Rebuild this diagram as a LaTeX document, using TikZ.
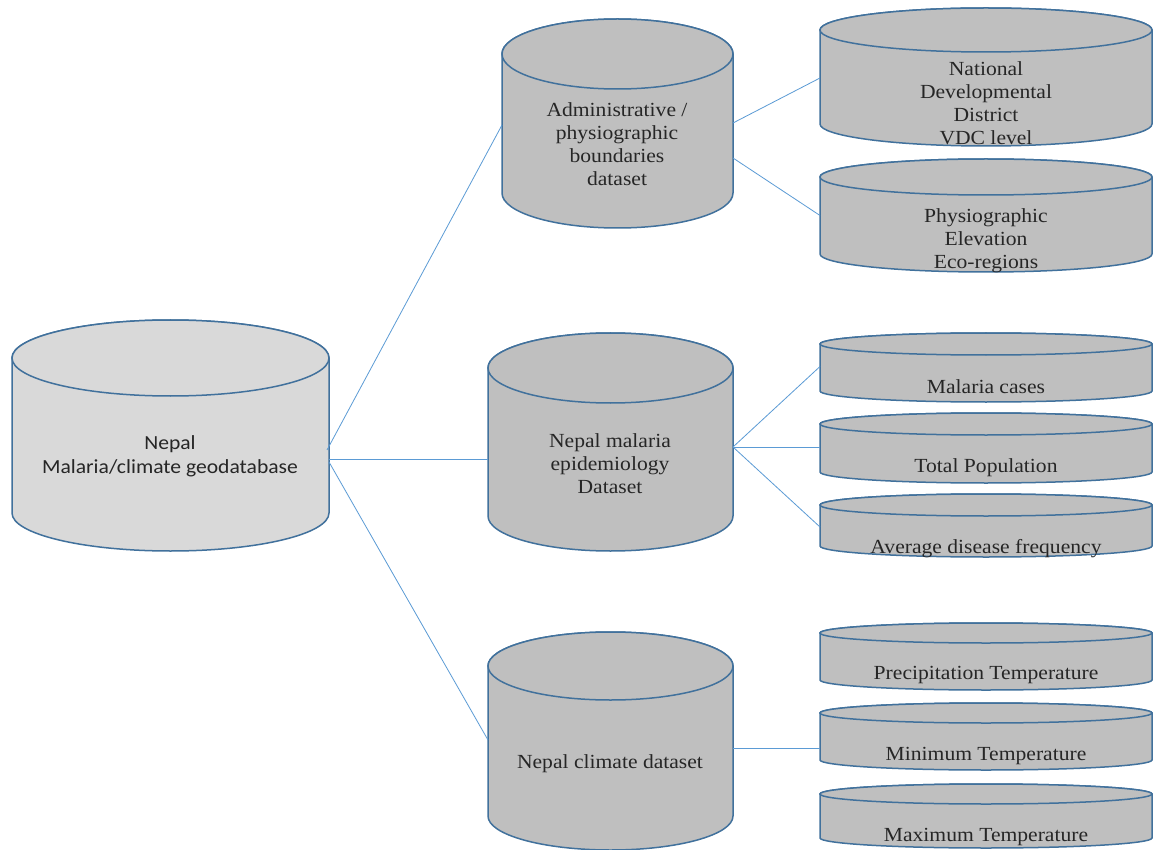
\documentclass[tikz,border=0pt]{standalone}
\usepackage{fontspec}
\setmainfont{Liberation Serif}[FakeStretch=1.08]
\newfontfamily\calib{Carlito}[FakeStretch=1.08]
\definecolor{cylline}{HTML}{41719C}
\definecolor{linkcol}{HTML}{5B9BD5}
\definecolor{lightfill}{HTML}{D9D9D9}
\definecolor{darkfill}{HTML}{BFBFBF}
\definecolor{txtcol}{HTML}{262626}
\tikzset{
  cylstyle/.style={draw=cylline, line width=1.5pt},
  hold/.style={draw=none, inner sep=0pt, outer sep=0pt, rectangle},
  link/.style={draw=linkcol, line width=0.8pt},
  lbl/.style={align=center, text=txtcol, inner sep=0pt, yshift=-2.5pt, font=\fontsize{20}{23}\selectfont},
  lbls/.style={align=center, text=txtcol, inner sep=0pt, yshift=-1.5pt, font=\calib\fontsize{20}{24}\selectfont}
}
% #1 name, #2 xl, #3 xr, #4 top centre y, #5 bottom centre y, #6 ry, #7 fill
\newcommand\drumshape[7]{%
  \pgfmathsetmacro\rxx{(#3-#2)/2}%
  \pgfmathsetmacro\mxx{(#2+#3)/2}%
  \pgfmathsetmacro\myy{(#4+#5)/2}%
  \pgfmathsetmacro\hh{#5-#4+2*#6}%
  \pgfmathsetmacro\ww{#3-#2}%
  \filldraw[cylstyle, fill=#7] (#2,#4) -- (#2,#5)
     arc[start angle=180, end angle=360, x radius=\rxx pt, y radius=#6 pt]
     -- (#3,#4)
     arc[start angle=0, end angle=180, x radius=\rxx pt, y radius=#6 pt] -- cycle;
  \filldraw[cylstyle, fill=#7] (\mxx,#4) ellipse[x radius=\rxx pt, y radius=#6 pt];
  \node[hold, minimum width=\ww pt, minimum height=\hh pt] (#1) at (\mxx,\myy) {};
}
\begin{document}
\begin{tikzpicture}[x=1pt, y=-1pt]
\useasboundingbox[fill=white] (0,0) rectangle (1154,850);

\drumshape{nepal}{12}{329}{358}{513}{38}{lightfill}
\drumshape{adm}{502}{733}{54}{193}{35}{darkfill}
\drumshape{epi}{488}{733}{368}{516}{35}{darkfill}
\drumshape{clim}{488}{733}{666}{816}{34}{darkfill}
\drumshape{natl}{820}{1152}{30}{124}{22}{darkfill}
\drumshape{phys}{820}{1152}{177}{254}{18}{darkfill}
\drumshape{cases}{820}{1152}{344}{391}{11}{darkfill}
\drumshape{pop}{820}{1152}{424}{472}{11}{darkfill}
\drumshape{freq}{820}{1152}{505}{546}{11}{darkfill}
\drumshape{prec}{820}{1152}{633}{680}{10}{darkfill}
\drumshape{tmin}{820}{1152}{713}{760}{10}{darkfill}
\drumshape{tmax}{820}{1152}{794}{838}{10}{darkfill}

\node[lbls] (nepal-t) at (170,455) {Nepal\\Malaria/climate geodatabase};
\node[lbl] (adm-t) at (617,141.5) {Administrative /\\physiographic\\boundaries\\dataset};
\node[lbl] (epi-t) at (610,461) {Nepal malaria\\epidemiology\\Dataset};
\node[lbl] (clim-t) at (610,761) {Nepal climate dataset};
\node[lbl] (natl-t) at (986,101) {National\\Developmental\\District\\VDC level};
\node[lbl] (phys-t) at (986,238) {Physiographic\\Elevation\\Eco-regions};
\node[lbl] (cases-t) at (986,384) {Malaria cases};
\node[lbl] (pop-t) at (986,465) {Total Population};
\node[lbl] (freq-t) at (986,546) {Average disease frequency};
\node[lbl] (prec-t) at (986,673) {Precipitation Temperature};
\node[lbl] (tmin-t) at (986,754) {Minimum Temperature};
\node[lbl] (tmax-t) at (986,835) {Maximum Temperature};

\draw[link] ([yshift=-14.5pt,xshift=-2pt]nepal.east) -- ([yshift=-1.5pt]adm.west);
\draw[link] ([yshift=-23.5pt]nepal.east) -- ([yshift=-17pt]epi.west);
\draw[link] ([yshift=-26.5pt]nepal.east) -- ([yshift=1pt]clim.west);
\draw[link] ([yshift=0.5pt]adm.east) -- ([yshift=-1pt]natl.west);
\draw[link] ([yshift=-34.5pt]adm.east) -- (phys.west);
\draw[link] ([yshift=-5pt]epi.east) -- ([yshift=1pt]cases.west);
\draw[link] ([yshift=-5pt]epi.east) -- ([yshift=1pt]pop.west);
\draw[link] ([yshift=-5pt]epi.east) -- ([yshift=-1.5pt]freq.west);
\draw[link] ([yshift=-7pt]clim.east) -- ([yshift=-11.5pt]tmin.west);
\end{tikzpicture}
\end{document}
